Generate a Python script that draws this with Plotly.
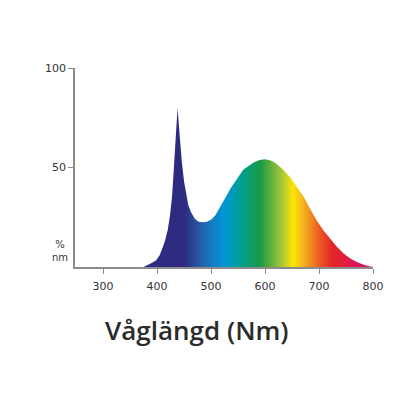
from plotly import graph_objects as go

# spectrum curve
wavelength = [375, 383, 390, 398, 405, 410, 415, 420, 424, 428, 432, 435, 437, 438,
              439, 441, 446, 450, 454, 458, 463, 470, 477, 484, 492, 500, 508, 517,
              526, 536, 548, 560, 579, 590, 600, 611, 622, 635, 647, 660, 672, 684,
              696, 708, 721, 733, 746, 758, 770, 783, 795, 800]
intensity = [0, 1, 2, 3.3, 6, 9.5, 13.5, 19, 26, 36, 52.5, 66, 75, 80,
             76, 69, 52.5, 43, 36, 31, 27.5, 24.3, 22.8, 22.5, 22.8, 23.8, 26, 30,
             34.5, 39.5, 44.5, 49, 52.5, 53.8, 54.2, 53.5, 51.7, 48.5, 45, 40, 35, 29,
             23.3, 18.5, 14.2, 10.2, 6.7, 4.3, 2.5, 1.1, 0.3, 0]

x_ticks = [300, 400, 500, 600, 700, 800]
y_ticks = [50, 100]

# colour along the wavelength axis
spectrum_wl = [375, 450, 470, 490, 525, 558, 590, 610, 632, 652, 665, 680, 700, 725, 760, 800]
spectrum_col = ["#2e2a7f", "#2e2a80", "#2b4c9c", "#1f6db5", "#0097d7", "#00a08c",
                "#179a48", "#5cae3a", "#a9c83b", "#ffe600", "#f8c21a", "#f39a1e",
                "#ec5b25", "#e42528", "#dc1a4c", "#d6145f"]

lo, hi = spectrum_wl[0], spectrum_wl[-1]
colorscale = [[(w - lo) / (hi - lo), c] for w, c in zip(spectrum_wl, spectrum_col)]

axis_grey = "#8c8c8c"
text_col = "#333333"
font_family = "'DejaVu Sans', sans-serif"

fig = go.Figure()

fig.add_trace(
    go.Scatter(
        x=wavelength,
        y=intensity,
        mode="lines",
        line=dict(width=0),
        fill="tozeroy",
        fillgradient=dict(type="horizontal", colorscale=colorscale, start=lo, stop=hi),
        hoverinfo="skip",
        showlegend=False,
    )
)

axis_style = dict(
    showgrid=False,
    zeroline=False,
    showline=True,
    linecolor=axis_grey,
    linewidth=1.5,
    ticks="outside",
    ticklen=5,
    tickwidth=1.2,
    tickcolor=axis_grey,
    tickfont=dict(family=font_family, size=11, color=text_col),
)

fig.update_xaxes(range=[248, 800], tickvals=x_ticks, ticklabelstandoff=3, **axis_style)
fig.update_yaxes(range=[0, 100], tickvals=y_ticks, **axis_style)

fig.add_annotation(
    x=248, y=8, xref="x", yref="y",
    text="%<br>nm", showarrow=False,
    xshift=-15, xanchor="center", yanchor="middle",
    font=dict(family=font_family, size=10, color=text_col),
)

fig.add_annotation(
    x=0.41, y=-0.317, xref="paper", yref="paper",
    text="Våglängd (Nm)", showarrow=False,
    xanchor="center", yanchor="middle",
    font=dict(family="'Open Sans', sans-serif", size=26, color="#2b2b2b", weight=600),
)

fig.update_layout(
    width=400,
    height=400,
    margin=dict(l=67, r=35, t=60, b=141),
    plot_bgcolor="white",
    paper_bgcolor="white",
)

fig.write_html("out.html")
